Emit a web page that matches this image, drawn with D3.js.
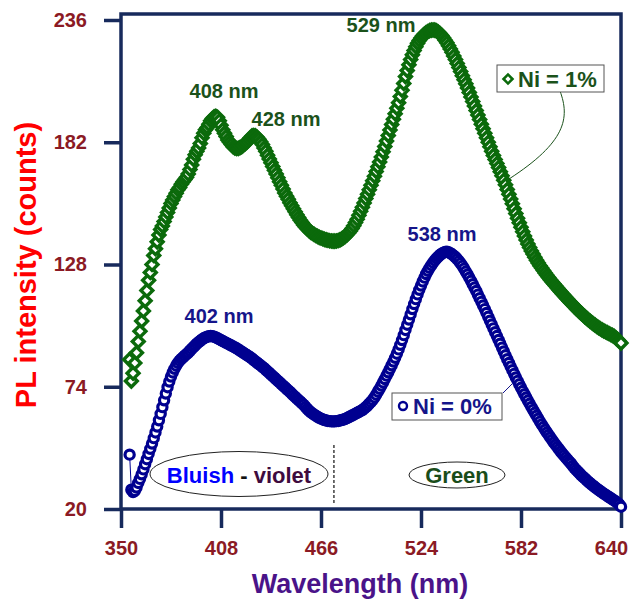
<!DOCTYPE html>
<html>
<head>
<meta charset="utf-8">
<script src="https://cdn.jsdelivr.net/npm/d3@7"></script>
<style>
  body { margin: 0; background: #fff; }
  svg { display: block; font-family: "Liberation Sans", Arial, sans-serif; font-weight: bold; }
</style>
</head>
<body>
<div class="root"></div>
<script>
// wavelength grid (nm) shared by both spectra
const wavelength = [
  355, 356, 357, 358, 359, 360, 361, 362, 363, 364,
  365, 366, 367, 368, 369, 370, 371, 372, 373, 374,
  375, 376, 377, 378, 379, 380, 381, 382, 383, 384,
  385, 386, 387, 388, 389, 390, 391, 392, 393, 394,
  395, 396, 397, 398, 399, 400, 401, 402, 403, 404,
  405, 406, 407, 408, 409, 410, 411, 412, 413, 414,
  415, 416, 417, 418, 419, 420, 421, 422, 423, 424,
  425, 426, 427, 428, 429, 430, 431, 432, 433, 434,
  435, 436, 437, 438, 439, 440, 441, 442, 443, 444,
  445, 446, 447, 448, 449, 450, 451, 452, 453, 454,
  455, 456, 457, 458, 459, 460, 461, 462, 463, 464,
  465, 466, 467, 468, 469, 470, 471, 472, 473, 474,
  475, 476, 477, 478, 479, 480, 481, 482, 483, 484,
  485, 486, 487, 488, 489, 490, 491, 492, 493, 494,
  495, 496, 497, 498, 499, 500, 501, 502, 503, 504,
  505, 506, 507, 508, 509, 510, 511, 512, 513, 514,
  515, 516, 517, 518, 519, 520, 521, 522, 523, 524,
  525, 526, 527, 528, 529, 530, 531, 532, 533, 534,
  535, 536, 537, 538, 539, 540, 541, 542, 543, 544,
  545, 546, 547, 548, 549, 550, 551, 552, 553, 554,
  555, 556, 557, 558, 559, 560, 561, 562, 563, 564,
  565, 566, 567, 568, 569, 570, 571, 572, 573, 574,
  575, 576, 577, 578, 579, 580, 581, 582, 583, 584,
  585, 586, 587, 588, 589, 590, 591, 592, 593, 594,
  595, 596, 597, 598, 599, 600, 601, 602, 603, 604,
  605, 606, 607, 608, 609, 610, 611, 612, 613, 614,
  615, 616, 617, 618, 619, 620, 621, 622, 623, 624,
  625, 626, 627, 628, 629, 630, 631, 632, 633, 634,
  635, 636, 637, 638, 639, 640
];

// Ni = 1% (green diamonds)
const ni1 = [
  86, 76.5, 80, 84.5, 89, 94, 98.5, 103, 107.5, 112,
  116.5, 121, 124.5, 128, 132, 135, 138, 141, 143.5, 145,
  147, 149, 151, 153, 155, 156.5, 158, 159.5, 161, 162,
  163.5, 164.5, 165.5, 166.5, 168, 170, 172, 174.5, 176.5, 178,
  179.5, 181.5, 184, 186, 187.5, 188.5, 190, 191.5, 192.5, 193.2,
  193.5, 193, 191.5, 189.5, 187.5, 186, 184.5, 183, 182, 181,
  180, 179.5, 179.3, 179.3, 179.6, 180, 180.7, 181.4, 182, 183,
  184, 184.8, 185, 184.8, 184.2, 183.3, 182.2, 181, 179.5, 178,
  176.3, 174.6, 173, 171.3, 169.6, 168, 166.3, 164.6, 163, 161.3,
  159.6, 158.2, 156.8, 155.3, 154, 152.6, 151.3, 150, 148.8, 147.6,
  146.5, 145.5, 144.6, 143.8, 143, 142.3, 141.8, 141.3, 140.8, 140.4,
  140, 139.7, 139.4, 139.1, 138.9, 138.7, 138.5, 138.4, 138.3, 138.3,
  138.4, 138.6, 138.9, 139.3, 139.8, 140.4, 141.1, 141.9, 142.8, 143.9,
  145.1, 146.5, 148, 149.7, 151.5, 153.3, 155.2, 157.1, 159, 161,
  163, 165, 167, 169.1, 171.2, 173.3, 175.5, 177.8, 180.1, 182.5,
  185, 187.4, 189.8, 192.2, 194.6, 197, 199.5, 202.2, 205, 208,
  211, 213.7, 216.2, 218.5, 220.6, 222.5, 224.2, 225.7, 227, 228.1,
  229, 229.8, 230.4, 230.9, 231.3, 231.5, 231.6, 231.5, 231.2, 230.7,
  230, 229.2, 228.2, 227.1, 225.9, 224.6, 223.2, 221.7, 220.1, 218.5,
  216.8, 215, 213.2, 211.4, 209.6, 207.8, 206, 204, 202, 200,
  198, 196, 194, 192, 190, 188, 186, 184, 182, 180,
  178, 176.2, 174.4, 172.6, 170.8, 169, 167.2, 165.2, 163.2, 161.1,
  159, 156.9, 154.8, 152.6, 150.5, 148.4, 146.4, 144.4, 142.5, 140.6,
  138.8, 137.1, 135.5, 134, 132.6, 131.2, 129.9, 128.7, 127.5, 126.4,
  125.3, 124.3, 123.3, 122.3, 121.3, 120.4, 119.5, 118.6, 117.7, 116.8,
  116, 115.1, 114.3, 113.4, 112.6, 111.8, 111, 110.2, 109.4, 108.6,
  107.9, 107.1, 106.4, 105.7, 105, 104.3, 103.6, 103, 102.4, 101.8,
  101.2, 100.6, 100.1, 99.6, 99.1, 98.7, 98.3, 97.9, 97.5, 97.1,
  96.7, 96.3, 95.6, 94.9, 94.1, 93.3
];

// Ni = 0% (blue circles)
const ni0 = [
  44, 28.5, 27.5, 28, 29.5, 31.5, 33.3, 35.3, 37.5, 39.8,
  42, 44.3, 46.6, 48.9, 51.3, 53.8, 56.4, 59.2, 62, 65,
  68, 71, 73.8, 76.3, 78.5, 80.3, 81.9, 83.3, 84.5, 85.5,
  86.3, 87, 87.7, 88.4, 89.1, 89.9, 90.7, 91.5, 92.3, 93,
  93.7, 94.3, 94.9, 95.4, 95.8, 96.1, 96.3, 96.4, 96.3, 96.1,
  95.8, 95.4, 95, 94.6, 94.2, 93.8, 93.4, 93, 92.6, 92.2,
  91.8, 91.4, 91, 90.5, 90, 89.5, 89, 88.5, 88, 87.5,
  87, 86.4, 85.8, 85.2, 84.6, 84, 83.4, 82.8, 82.2, 81.5,
  80.8, 80.1, 79.4, 78.7, 78, 77.3, 76.6, 75.9, 75.2, 74.5,
  73.8, 73.1, 72.4, 71.7, 71, 70.2, 69.5, 68.8, 68.1, 67.4,
  66.7, 66, 65.1, 64.2, 63.5, 62.8, 62.2, 61.7, 61.2, 60.7,
  60.3, 59.9, 59.6, 59.3, 59.1, 58.9, 58.8, 58.7, 58.7, 58.7,
  58.8, 58.9, 59.1, 59.3, 59.5, 59.8, 60.1, 60.5, 60.9, 61.3,
  61.7, 62.1, 62.5, 62.9, 63.3, 63.7, 64.3, 65, 65.7, 66.5,
  67.3, 68.2, 69.3, 70.5, 71.8, 73.1, 74.5, 75.9, 77.4, 78.9,
  80.4, 81.9, 83.5, 85.1, 86.8, 88.6, 90.5, 92.5, 94.6, 96.8,
  99.1, 101.4, 103.7, 106, 108.3, 110.5, 112.7, 114.8, 116.8, 118.7,
  120.5, 122.2, 123.8, 125.2, 126.5, 127.7, 128.8, 129.8, 130.7, 131.5,
  132.2, 132.8, 133.2, 133.5, 133.6, 133.4, 133, 132.5, 131.9, 131.2,
  130.4, 129.5, 128.5, 127.4, 126.2, 124.9, 123.6, 122.2, 120.8, 119.3,
  117.8, 116.3, 114.7, 113.1, 111.5, 109.9, 108.3, 106.6, 104.9, 103.2,
  101.5, 99.8, 98.1, 96.4, 94.7, 93, 91.3, 89.6, 87.9, 86.2,
  84.5, 82.9, 81.3, 79.7, 78.1, 76.6, 75.1, 73.6, 72.1, 70.7,
  69.3, 67.9, 66.5, 65.1, 63.8, 62.5, 61.2, 59.9, 58.6, 57.4,
  56.2, 55, 53.8, 52.7, 51.6, 50.5, 49.4, 48.4, 47.4, 46.4,
  45.4, 44.5, 43.6, 42.7, 41.8, 40.9, 40.1, 39, 38.1, 37.3,
  36.5, 35.7, 34.9, 34.2, 33.5, 32.8, 32.1, 31.4, 30.8, 30.2,
  29.6, 29, 28.4, 27.9, 27.3, 26.8, 26.3, 25.8, 25.3, 24.8,
  24.3, 23.8, 23.3, 22.7, 22, 21
];

const xTicks = [350, 408, 466, 524, 582, 640];
const yTicks = [20, 74, 128, 182, 236];

const width = 630;
const height = 599;
const frameColor = "#172a5c";
const tickColor = "#8b1a24";
const green = "#0b6a0b";
const greenText = "#1b521b";
const blue = "#000090";
const blueText = "#15158a";

const svg = d3
  .select("div.root")
  .append("svg")
  .attr("width", width)
  .attr("height", height);

const x = d3.scaleLinear().domain([350, 640]).range([121, 621]);
const y = d3.scaleLinear().domain([20, 236]).range([509, 20]);
const frameTop = 14;

// frame
svg
  .append("rect")
  .attr("x", x(350))
  .attr("y", frameTop)
  .attr("width", x(640) - x(350))
  .attr("height", y(20) - frameTop)
  .attr("fill", "none")
  .attr("stroke", frameColor)
  .attr("stroke-width", 3.5);

// axes
const yaxis = d3.axisLeft(y).tickValues(yTicks).tickSize(17).tickPadding(17);
const gy = svg.append("g").attr("transform", `translate(${x(350)},0)`).call(yaxis);
const xaxis = d3.axisBottom(x).tickValues(xTicks).tickSize(19).tickPadding(13);
const gx = svg.append("g").attr("transform", `translate(0,${y(20)})`).call(xaxis);

[gx, gy].forEach(g => {
  g.select(".domain").remove();
  g.selectAll(".tick line").attr("stroke", frameColor).attr("stroke-width", 3.5);
  g.selectAll(".tick text")
    .attr("fill", tickColor)
    .attr("font-size", 20)
    .attr("font-weight", "bold")
    .attr("font-family", "Liberation Sans, Arial, sans-serif");
});
// last x label sits pulled in from the edge, as in the original
gx.selectAll(".tick text").filter(d => d === 640).attr("dx", -10);

// axis titles
svg
  .append("text")
  .attr("transform", "translate(36,265) rotate(-90)")
  .attr("text-anchor", "middle")
  .attr("fill", "#ff0000")
  .attr("font-size", 29)
  .text("PL intensity (counts)");

svg
  .append("text")
  .attr("x", 360)
  .attr("y", 593)
  .attr("text-anchor", "middle")
  .attr("fill", "#4a1389")
  .attr("font-size", 27)
  .text("Wavelength (nm)");

// region annotations
svg
  .append("line")
  .attr("x1", x(473.5))
  .attr("x2", x(473.5))
  .attr("y1", 445)
  .attr("y2", 504)
  .attr("stroke", "#222")
  .attr("stroke-width", 1.3)
  .attr("stroke-dasharray", "3,2");

svg
  .append("ellipse")
  .attr("cx", 239)
  .attr("cy", 474)
  .attr("rx", 89)
  .attr("ry", 22.5)
  .attr("fill", "none")
  .attr("stroke", "#222")
  .attr("stroke-width", 1);

const bv = svg
  .append("text")
  .attr("x", 239)
  .attr("y", 483)
  .attr("text-anchor", "middle")
  .attr("font-size", 22);
bv.append("tspan").attr("fill", "#0000ff").text("Bluish");
bv.append("tspan").attr("fill", "#111").text(" - ");
bv.append("tspan").attr("fill", "#3e0b3e").text("violet");

svg
  .append("ellipse")
  .attr("cx", 457)
  .attr("cy", 475)
  .attr("rx", 48)
  .attr("ry", 13)
  .attr("fill", "none")
  .attr("stroke", "#222")
  .attr("stroke-width", 1);

svg
  .append("text")
  .attr("x", 457)
  .attr("y", 483)
  .attr("text-anchor", "middle")
  .attr("font-size", 22)
  .attr("fill", "#1a4d1a")
  .text("Green");

// series
const diamond = d3.symbol(d3.symbolSquare, 70);
const circleR = 4.6;

function drawSeries(values, color, kind) {
  const pts = wavelength.map((w, i) => [w, values[i]]);
  const line = d3.line().x(d => x(d[0])).y(d => y(d[1]));
  svg
    .append("path")
    .datum(pts)
    .attr("d", line)
    .attr("fill", "none")
    .attr("stroke", color)
    .attr("stroke-width", 1);
  const g = svg.append("g");
  if (kind === "diamond") {
    g.selectAll("path")
      .data(pts)
      .enter()
      .append("path")
      .attr("d", diamond)
      .attr("transform", d => `translate(${x(d[0])},${y(d[1])}) rotate(45)`)
      .attr("fill", "#fff")
      .attr("stroke", color)
      .attr("stroke-width", 3.4);
  } else {
    g.selectAll("circle")
      .data(pts)
      .enter()
      .append("circle")
      .attr("cx", d => x(d[0]))
      .attr("cy", d => y(d[1]))
      .attr("r", circleR)
      .attr("fill", "#fff")
      .attr("stroke", color)
      .attr("stroke-width", 3.2);
  }
}

drawSeries(ni1, green, "diamond");
drawSeries(ni0, blue, "circle");

// peak labels
const peakLabels = [
  { t: "408 nm", cx: 224, by: 98, c: greenText },
  { t: "428 nm", cx: 286, by: 126, c: greenText },
  { t: "529 nm", cx: 381, by: 32, c: greenText },
  { t: "538 nm", cx: 442, by: 241, c: blueText },
  { t: "402 nm", cx: 219, by: 323, c: blueText }
];
svg
  .selectAll("text.peak")
  .data(peakLabels)
  .enter()
  .append("text")
  .attr("class", "peak")
  .attr("x", d => d.cx)
  .attr("y", d => d.by)
  .attr("text-anchor", "middle")
  .attr("font-size", 20)
  .attr("fill", d => d.c)
  .text(d => d.t);

// legend: Ni = 1%
svg
  .append("path")
  .attr("d", "M560,91 C570,118 566,142 509,179")
  .attr("fill", "none")
  .attr("stroke", greenText)
  .attr("stroke-width", 1);
svg
  .append("rect")
  .attr("x", 497)
  .attr("y", 65)
  .attr("width", 107)
  .attr("height", 27)
  .attr("fill", "#fff")
  .attr("stroke", "#555")
  .attr("stroke-width", 1);
svg
  .append("path")
  .attr("d", d3.symbol(d3.symbolSquare, 40))
  .attr("transform", "translate(508,79) rotate(45)")
  .attr("fill", "#fff")
  .attr("stroke", green)
  .attr("stroke-width", 2.6);
svg
  .append("text")
  .attr("x", 518)
  .attr("y", 86.5)
  .attr("font-size", 22)
  .attr("fill", greenText)
  .text("Ni = 1%");

// legend: Ni = 0%
svg
  .append("line")
  .attr("x1", 503)
  .attr("y1", 393)
  .attr("x2", 512)
  .attr("y2", 384)
  .attr("stroke", blueText)
  .attr("stroke-width", 1);
svg
  .append("rect")
  .attr("x", 392)
  .attr("y", 393)
  .attr("width", 110)
  .attr("height", 27)
  .attr("fill", "#fff")
  .attr("stroke", "#555")
  .attr("stroke-width", 1);
svg
  .append("circle")
  .attr("cx", 403)
  .attr("cy", 406)
  .attr("r", 4)
  .attr("fill", "#fff")
  .attr("stroke", blue)
  .attr("stroke-width", 2.4);
svg
  .append("text")
  .attr("x", 413)
  .attr("y", 414)
  .attr("font-size", 22)
  .attr("fill", blueText)
  .text("Ni = 0%");
</script>
</body>
</html>
